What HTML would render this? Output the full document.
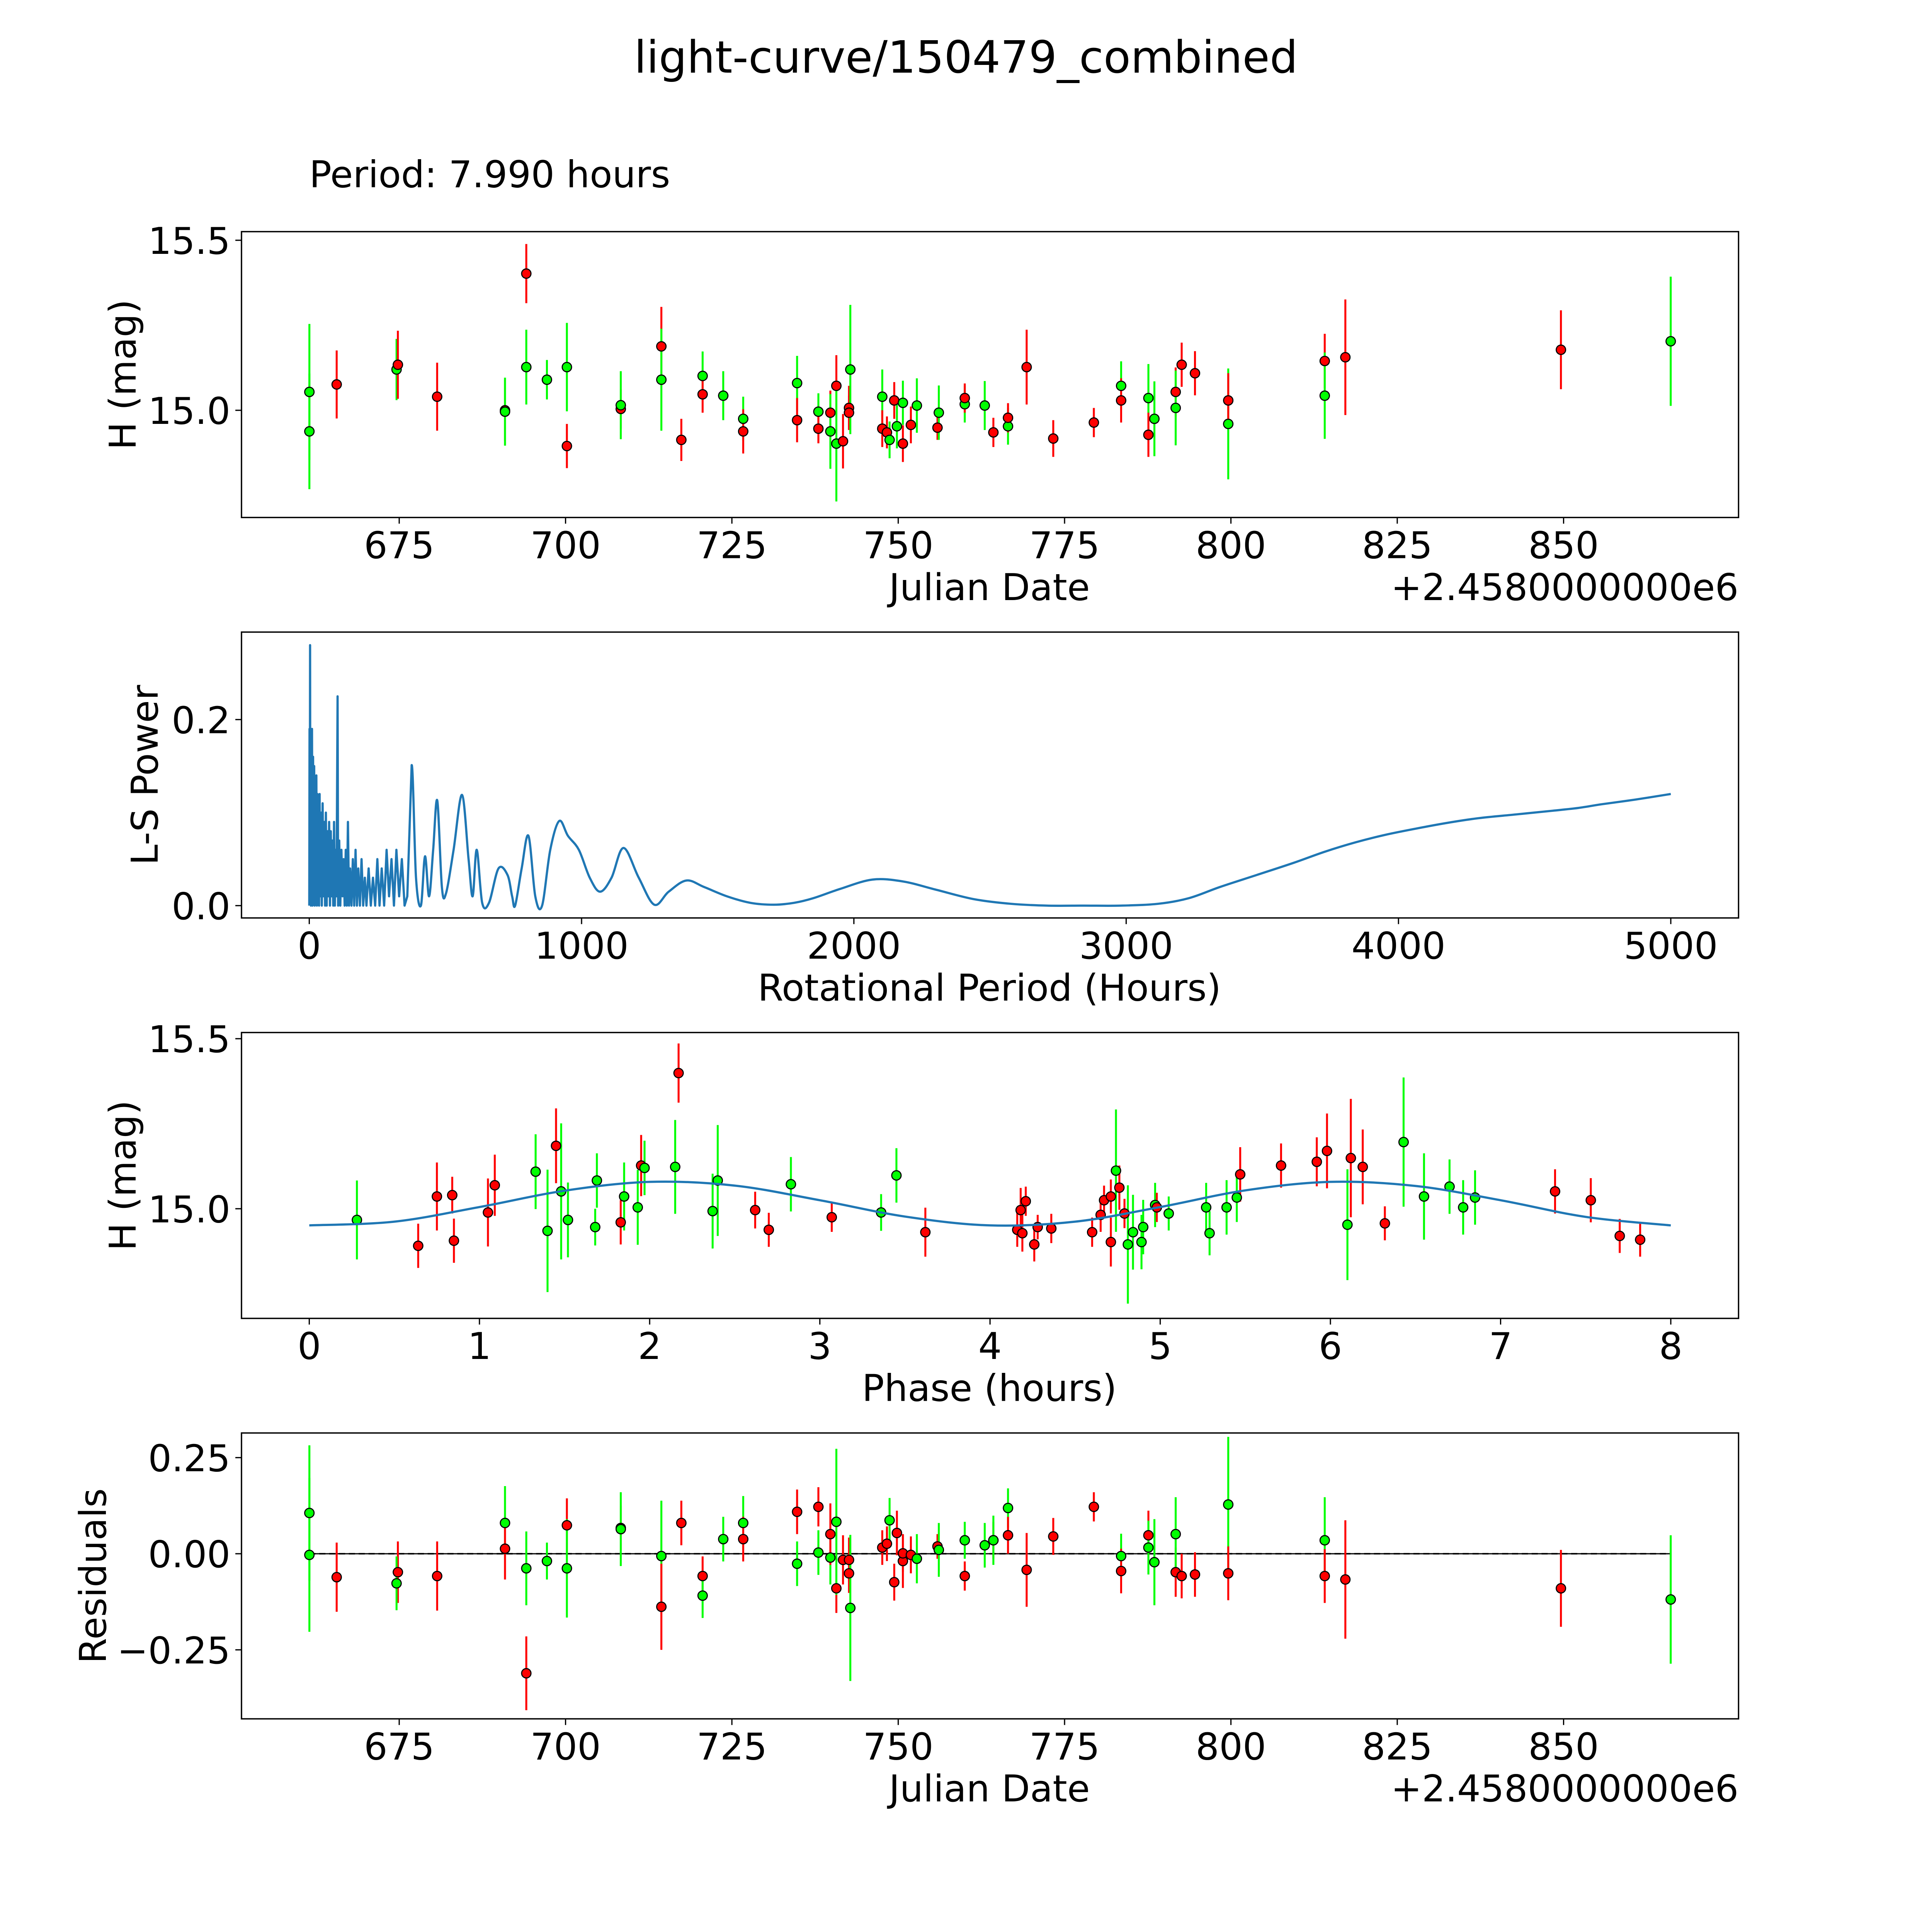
<!DOCTYPE html>
<html><head><meta charset="utf-8"><style>
html,body{margin:0;padding:0;background:#fff;overflow:hidden;width:100vw;height:100vh;}
svg{display:block;width:100vw;height:100vh;}
text{font-family:"DejaVu Sans","Liberation Sans",sans-serif;fill:#000;}
</style></head><body>
<svg id="fig" xmlns="http://www.w3.org/2000/svg" viewBox="0 0 1568 1568" preserveAspectRatio="none">
<rect x="0" y="0" width="1568" height="1568" fill="#fff"/>
<text x="784" y="59" font-size="36" text-anchor="middle">light-curve/150479_combined</text>
<text x="251" y="152" font-size="30">Period: 7.990 hours</text>
<g id="plots"></g>
</svg>
<script>
// ---------- data ----------
const lcJd = [661.5,661.5,665.6,674.6,674.8,680.7,690.9,690.9,694.1,694.1,697.2,700.2,700.2,708.3,708.3,714.4,714.4,717.4,720.6,720.6,723.7,726.7,726.7,734.8,734.8,738.0,738.0,739.8,739.8,740.7,740.7,741.7,742.6,742.6,742.8,747.6,747.6,748.3,748.7,749.4,749.8,750.7,750.7,751.9,752.8,755.9,756.1,760.0,760.0,763.0,764.3,766.5,766.5,769.3,773.3,779.4,783.5,783.5,787.6,787.6,788.5,791.7,791.7,792.6,794.6,799.6,799.6,814.1,814.1,817.2,849.6,866.1];
const lcMag = [15.054,14.938,15.076,15.12,15.134,15.04,15.0,14.996,15.402,15.127,15.09,15.127,14.895,15.004,15.015,15.188,15.09,14.913,15.101,15.047,15.043,14.975,14.938,15.08,14.971,14.996,14.946,14.993,14.938,15.072,14.902,14.909,15.007,14.993,15.12,15.04,14.946,14.935,14.913,15.029,14.953,15.022,14.902,14.957,15.014,14.949,14.993,15.018,15.036,15.014,14.935,14.953,14.978,15.127,14.917,14.964,15.072,15.029,15.036,14.928,14.975,15.054,15.007,15.134,15.109,14.96,15.029,15.145,15.043,15.156,15.178,15.203];
const lcErr = [0.2,0.17,0.1,0.09,0.1,0.1,0.09,0.1,0.087,0.11,0.058,0.13,0.065,0.058,0.1,0.116,0.15,0.062,0.072,0.054,0.072,0.065,0.065,0.08,0.065,0.054,0.043,0.065,0.11,0.09,0.17,0.08,0.065,0.05,0.19,0.08,0.054,0.047,0.054,0.054,0.065,0.065,0.054,0.054,0.08,0.036,0.08,0.054,0.043,0.072,0.043,0.054,0.043,0.11,0.054,0.043,0.072,0.065,0.1,0.065,0.11,0.072,0.11,0.065,0.065,0.163,0.08,0.08,0.127,0.17,0.116,0.19];
const lcCol = ['g','g','r','g','r','r','r','g','r','g','g','g','r','r','g','r','g','r','g','r','g','g','r','g','r','g','r','r','g','r','g','r','r','r','g','g','r','r','g','r','g','g','r','r','g','r','g','g','r','g','r','g','r','r','r','r','g','r','g','r','g','r','g','r','r','g','r','r','g','r','r','g'];

const perHours = [0,1,2,3,4,5,6,7,8,10,12,14,16,18,20,22,24,26,28,30,32,34,36,38,40,43,46,49,52,55,58,61,64,67,70,73,76,79,82,85,88,91,94,97,100,104,106,110,114,118,122,126,130,134,138,142,146,150,155,160,165,170,175,180,186,192,198,204,210,218,226,234,242,250,258,266,275,284,293,302,311,320,330,340,350,360,376,392,410,425,440,455,470,487,502,530,561,585,600,615,635,660,695,728,745,756,780,805,830,855,885,918,950,990,1030,1068,1110,1154,1210,1267,1320,1385,1450,1534,1620,1706,1780,1851,1950,2068,2180,2303,2440,2575,2710,2846,2980,3118,3230,3344,3480,3615,3730,3842,3950,4068,4180,4294,4430,4566,4660,4747,4870,5000];
const perPower = [0,0.19,0.02,0.28,0.01,0.19,0.0,0.17,0.01,0.19,0.0,0.16,0.02,0.15,0.0,0.13,0.01,0.14,0.0,0.12,0.02,0.11,0.0,0.12,0.01,0.1,0.0,0.11,0.01,0.09,0.0,0.1,0.0,0.08,0.01,0.09,0.0,0.08,0.01,0.07,0.0,0.09,0.0,0.06,0.01,0.225,0.0,0.07,0.0,0.06,0.01,0.05,0.0,0.06,0.0,0.09,0.0,0.04,0.0,0.05,0.0,0.06,0.0,0.04,0.0,0.05,0.0,0.03,0.0,0.04,0.0,0.03,0.0,0.05,0.0,0.04,0.0,0.06,0.01,0.05,0.0,0.06,0.01,0.05,0.0,0.01,0.151,0.03,0.0,0.053,0.01,0.06,0.113,0.02,0.013,0.06,0.119,0.05,0.01,0.06,0.003,0.003,0.04,0.033,0.01,0.0,0.04,0.075,0.01,0.0,0.06,0.091,0.075,0.06,0.03,0.015,0.03,0.062,0.03,0.001,0.015,0.027,0.02,0.01,0.003,0.001,0.003,0.008,0.018,0.028,0.026,0.017,0.007,0.002,0.0,0.0,0.0,0.002,0.008,0.02,0.033,0.046,0.058,0.068,0.076,0.083,0.089,0.094,0.098,0.102,0.105,0.109,0.114,0.12];

const phPhase = [0.28,0.64,0.75,0.84,0.85,1.05,1.09,1.33,1.40,1.45,1.48,1.52,1.69,1.68,1.83,1.85,1.93,1.95,1.97,2.15,2.17,2.37,2.40,2.62,2.70,2.83,3.07,3.36,3.45,3.62,4.16,4.18,4.19,4.21,4.26,4.28,4.36,4.60,4.65,4.67,4.71,4.71,4.74,4.76,4.79,4.81,4.84,4.89,4.90,4.97,4.98,5.05,5.27,5.29,5.39,5.45,5.47,5.71,5.92,5.98,6.10,6.12,6.19,6.32,6.43,6.55,6.70,6.78,6.85,7.32,7.53,7.70,7.82];
const phMag = [14.967,14.891,15.036,15.04,14.906,14.989,15.069,15.109,14.935,15.185,15.051,14.967,15.083,14.946,14.96,15.036,15.004,15.127,15.12,15.123,15.399,14.993,15.083,14.996,14.938,15.072,14.975,14.989,15.098,14.931,14.938,14.996,14.928,15.022,14.895,14.946,14.942,14.931,14.982,15.025,15.036,14.902,15.112,15.062,14.986,14.895,14.931,14.902,14.946,15.011,15.004,14.986,15.004,14.928,15.004,15.033,15.101,15.127,15.138,15.17,14.953,15.149,15.123,14.957,15.196,15.036,15.065,15.004,15.033,15.051,15.025,14.92,14.909];
const phErr = [0.116,0.065,0.1,0.054,0.065,0.1,0.09,0.11,0.18,0.11,0.2,0.11,0.08,0.054,0.065,0.1,0.11,0.09,0.08,0.138,0.087,0.11,0.163,0.054,0.05,0.08,0.043,0.054,0.08,0.072,0.05,0.065,0.054,0.043,0.05,0.036,0.043,0.043,0.05,0.043,0.05,0.072,0.18,0.065,0.043,0.174,0.11,0.08,0.08,0.065,0.043,0.05,0.072,0.065,0.08,0.072,0.08,0.065,0.072,0.11,0.163,0.174,0.11,0.05,0.19,0.127,0.08,0.08,0.08,0.065,0.065,0.05,0.05];
const phCol = ['g','r','r','r','r','r','r','g','g','r','g','g','g','g','r','g','g','r','g','g','r','g','g','r','r','g','r','g','g','r','r','r','r','r','r','r','r','r','r','r','r','r','g','r','r','g','g','g','g','g','r','g','g','g','g','g','r','r','r','r','g','r','r','r','g','g','g','g','g','r','r','r','r'];
const modelPhase = [0,0.5,1,1.5,2,2.5,3,3.5,4,4.5,5,5.5,6,6.5,7,7.5,8];
const modelMag = [14.951,14.962,15.005,15.053,15.079,15.068,15.025,14.977,14.951,14.962,15.005,15.054,15.079,15.067,15.025,14.976,14.951];

const resJd = [661.5,661.5,665.6,674.8,674.6,680.7,690.9,690.9,694.1,694.1,697.2,700.2,700.2,708.3,708.3,714.4,714.4,717.4,720.6,720.6,723.7,726.7,726.7,734.8,734.8,738.0,738.0,739.8,739.8,740.7,740.7,741.7,742.6,742.6,742.8,747.6,748.3,748.7,749.4,749.8,750.7,750.7,751.9,752.8,755.9,756.1,760.0,760.0,763.0,764.3,764.3,766.5,766.5,769.3,773.3,779.4,783.5,783.5,787.6,787.6,788.5,791.7,791.7,792.6,794.6,799.6,799.6,814.1,814.1,817.2,849.6,866.1];
const resVal = [0.106,-0.003,-0.061,-0.048,-0.077,-0.058,0.08,0.013,-0.311,-0.038,-0.019,0.074,-0.038,0.067,0.064,-0.006,-0.138,0.08,-0.058,-0.109,0.038,0.08,0.038,0.109,-0.026,0.003,0.122,-0.01,0.051,-0.09,0.083,-0.016,-0.016,-0.051,-0.141,0.016,0.026,0.087,-0.074,0.054,-0.019,0.001,-0.003,-0.013,0.019,0.01,-0.058,0.035,0.022,0.035,0.035,0.119,0.048,-0.042,0.045,0.122,-0.006,-0.045,0.048,0.016,-0.022,-0.048,0.051,-0.058,-0.054,0.128,-0.051,0.035,-0.058,-0.067,-0.09,-0.119];
const resErr = [0.176,0.2,0.09,0.08,0.07,0.09,0.096,0.08,0.096,0.096,0.048,0.07,0.128,0.058,0.096,0.144,0.112,0.058,0.051,0.058,0.058,0.07,0.058,0.058,0.058,0.058,0.051,0.07,0.08,0.064,0.19,0.064,0.058,0.051,0.19,0.045,0.045,0.058,0.048,0.058,0.07,0.048,0.048,0.064,0.032,0.07,0.038,0.048,0.058,0.048,0.064,0.051,0.048,0.096,0.048,0.038,0.058,0.058,0.064,0.07,0.112,0.064,0.096,0.058,0.058,0.176,0.07,0.112,0.07,0.154,0.1,0.167];
const resCol = ['g','g','r','r','g','r','g','r','r','g','g','r','g','r','g','g','r','r','r','g','g','g','r','r','g','g','r','g','r','r','g','r','r','r','g','r','r','g','r','r','r','r','r','g','r','g','r','g','g','r','g','g','r','r','r','r','g','r','r','g','g','r','g','r','r','g','r','g','r','r','r','g'];

const jdTicks = [675,700,725,750,775,800,825,850];
const magTicks = [15.0,15.5];
const magTickLabels = ['15.0','15.5'];
const perXTicks = [0,1000,2000,3000,4000,5000];
const perYTicks = [0.0,0.2];
const perYTickLabels = ['0.0','0.2'];
const phXTicks = [0,1,2,3,4,5,6,7,8];
const resTicks = [0.25,0.0,-0.25];
const resTickLabels = ['0.25','0.00','\u22120.25'];

// ---------- helpers ----------
const NS = 'http://www.w3.org/2000/svg';
const root = document.getElementById('plots');
function mk(tag, attrs, parent){ const e=document.createElementNS(NS,tag); for(const k in attrs) e.setAttribute(k,attrs[k]); (parent||root).appendChild(e); return e; }
function lin(d0,d1,r0,r1){ return v=>r0+(v-d0)*(r1-r0)/(d1-d0); }
const COL = {r:'#ff0000', g:'#00ff00'};
const L=196, R=1411, FS=30;

function frame(name){
  const g = mk('g',{});
  
  
  return g;
}
function box(g, top, bot){
  const b = mk('rect',{x:L,y:top,width:R-L,height:bot-top,fill:'none',stroke:'#000','stroke-width':1.1},g);
  
  
}
function xTicks(g, ticks, sx, bot){
  ticks.forEach(t=>{
    const x=sx(t);
    mk('line',{x1:x,x2:x,y1:bot,y2:bot+5,stroke:'#000','stroke-width':1},g);
    const tx=mk('text',{x:x,y:bot+33,'font-size':FS,'text-anchor':'middle'},g);
    tx.textContent = String(t);
    
    
  });
}
function yTicks(g, ticks, labels, sy){
  ticks.forEach((t,i)=>{
    const y=sy(t);
    mk('line',{x1:L-5,x2:L,y1:y,y2:y,stroke:'#000','stroke-width':1},g);
    const tx=mk('text',{x:L-9,y:y+11,'font-size':FS,'text-anchor':'end'},g);
    tx.textContent = labels[i];
    
    
  });
}
function label(g, txt, x, y, rot, name, anchor){
  const t=mk('text',{x:x,y:y,'font-size':FS,'text-anchor':anchor||'middle'},g);
  if(rot) t.setAttribute('transform','rotate(-90 '+x+' '+y+')');
  t.textContent=txt;
  
  
}
function errPoints(g, xs, ys, es, cs, sx, sy, name){
  const gb = mk('g',{},g);
  xs.forEach((v,i)=>{
    const x=sx(v);
    const l=mk('line',{x1:x,x2:x,y1:sy(ys[i]-es[i]),y2:sy(ys[i]+es[i]),stroke:COL[cs[i]],'stroke-width':1.6},gb);
    
    
  });
  xs.forEach((v,i)=>{
    const c=mk('circle',{cx:sx(v),cy:sy(ys[i]),r:3.8,fill:COL[cs[i]],stroke:'#000','stroke-width':0.9},gb);
    
    
  });
}
function smoothSeg(pts,i){
  const p0=pts[Math.max(0,i-1)],p1=pts[i],p2=pts[i+1],p3=pts[Math.min(pts.length-1,i+2)];
  const c1=[p1[0]+(p2[0]-p0[0])/6,p1[1]+(p2[1]-p0[1])/6], c2=[p2[0]-(p3[0]-p1[0])/6,p2[1]-(p3[1]-p1[1])/6];
  return 'C'+c1[0].toFixed(2)+' '+c1[1].toFixed(2)+' '+c2[0].toFixed(2)+' '+c2[1].toFixed(2)+' '+p2[0].toFixed(2)+' '+p2[1].toFixed(2);
}

// ---------- panel 1: light curve ----------
(function(){
  const top=188, bot=420;
  const sx=lin(675,850,324,1269), sy=lin(15.0,15.5,333,195);
  const g=frame('light-curve-panel');
  errPoints(g, lcJd, lcMag, lcErr, lcCol, sx, sy, 'light-curve');
  box(g,top,bot);
  xTicks(g, jdTicks, sx, bot);
  yTicks(g, magTicks, magTickLabels, sy);
  label(g,'Julian Date',803,487,false,'x-axis-title');
  label(g,'+2.4580000000e6',1411,487,false,'x-axis-offset','end');
  label(g,'H (mag)',110,304,true,'y-axis-title');
})();

// ---------- panel 2: periodogram ----------
(function(){
  const top=513, bot=745;
  const sx=lin(0,5000,251,1356), sy=lin(0,0.2,735,584);
  const g=frame('periodogram-panel');
  const pts=perHours.map((p,i)=>[sx(p),sy(perPower[i])]);
  let d='M'+pts[0][0].toFixed(2)+' '+pts[0][1].toFixed(2);
  for(let i=0;i<pts.length-1;i++){
    if(perHours[i]>=376) d+=smoothSeg(pts,i);
    else d+='L'+pts[i+1][0].toFixed(2)+' '+pts[i+1][1].toFixed(2);
  }
  const p=mk('path',{d:d,fill:'none',stroke:'#1f77b4','stroke-width':1.8,'stroke-linejoin':'round'},g);
  
  
  box(g,top,bot);
  xTicks(g, perXTicks, sx, bot);
  yTicks(g, perYTicks, perYTickLabels, sy);
  label(g,'Rotational Period (Hours)',803,812,false,'x-axis-title');
  label(g,'L-S Power',128,629,true,'y-axis-title');
})();

// ---------- panel 3: phased ----------
(function(){
  const top=838, bot=1070;
  const sx=lin(0,8,251,1356), sy=lin(15.0,15.5,981,843);
  const g=frame('phased-curve-panel');
  errPoints(g, phPhase, phMag, phErr, phCol, sx, sy, 'phased');
  const pts=modelPhase.map((v,i)=>[sx(v),sy(modelMag[i])]);
  let d='M'+pts[0][0]+' '+pts[0][1];
  for(let i=0;i<pts.length-1;i++) d+=smoothSeg(pts,i);
  const m=mk('path',{d:d,fill:'none',stroke:'#1f77b4','stroke-width':1.8},g);
  
  
  box(g,top,bot);
  xTicks(g, phXTicks, sx, bot);
  yTicks(g, magTicks, magTickLabels, sy);
  label(g,'Phase (hours)',803,1137,false,'x-axis-title');
  label(g,'H (mag)',110,954,true,'y-axis-title');
})();

// ---------- panel 4: residuals ----------
(function(){
  const top=1163, bot=1395;
  const sx=lin(675,850,324,1269), sy=lin(0,0.25,1261,1183);
  const g=frame('residuals-panel');
  const s=mk('line',{x1:sx(661.5),x2:sx(866.1),y1:sy(0),y2:sy(0),stroke:'#000','stroke-width':1},g);
  
  
  const dl=mk('line',{x1:sx(661.5),x2:sx(866.1),y1:sy(0),y2:sy(0),stroke:'#000','stroke-width':1.2,'stroke-dasharray':'5 3'},g);
  
  
  errPoints(g, resJd, resVal, resErr, resCol, sx, sy, 'residual');
  box(g,top,bot);
  xTicks(g, jdTicks, sx, bot);
  yTicks(g, resTicks, resTickLabels, sy);
  label(g,'Julian Date',803,1462,false,'x-axis-title');
  label(g,'+2.4580000000e6',1411,1462,false,'x-axis-offset','end');
  label(g,'Residuals',86,1279,true,'y-axis-title');
})();
</script>
</body></html>
